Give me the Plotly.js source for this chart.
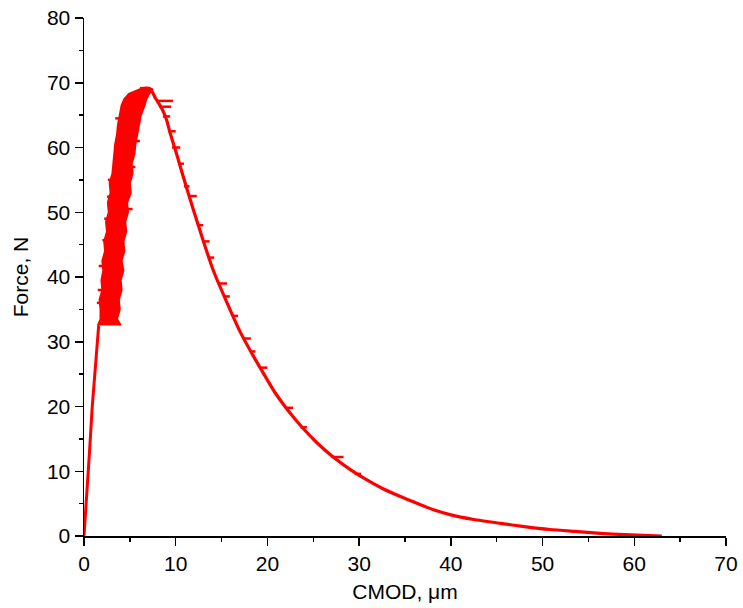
<!DOCTYPE html>
<html>
<head>
<meta charset="utf-8">
<script src="https://cdn.plot.ly/plotly-3.0.1.min.js"></script>
<style>html,body{margin:0;padding:0;background:#fff;}#chart{width:743px;height:608px;}</style>
</head>
<body>
<div id="chart"></div>
<script>
// Initial (elastic) rise
const riseX = [0, 0.3, 0.6, 0.9, 1.2, 1.45, 1.6];
const riseY = [0, 6, 13, 20, 26, 30.5, 32.5];

// Noisy band near the peak: y levels with left and right edges (CMOD, µm)
const bandY     = [32.5, 33.5, 35, 36.5, 38, 39.5, 41, 42.5, 44, 45.5, 47, 48.5, 50, 51.5, 53, 54.5, 56, 57.5, 59, 60.5, 62, 63.5, 65, 66.5, 67.5, 68.3, 69.0];
const bandLeft  = [1.5, 1.8, 1.8, 1.7, 2.0, 1.9, 2.1, 2.0, 2.3, 2.2, 2.5, 2.4, 2.7, 2.6, 2.9, 2.8, 3.1, 3.2, 3.3, 3.4, 3.6, 3.7, 3.9, 4.1, 4.4, 4.9, 6.1];
const bandRight = [4.0, 3.6, 3.9, 3.8, 4.1, 4.0, 4.3, 4.1, 4.4, 4.3, 4.6, 4.5, 4.8, 4.7, 5.1, 5.0, 5.3, 5.2, 5.5, 5.6, 5.8, 6.0, 6.2, 6.6, 6.8, 7.1, 7.5];

// Softening (post-peak) branch
const fallX = [6.1, 7.2, 7.8, 8.5, 9.0, 9.4, 10.1, 10.8, 11.9, 13.0, 14.1, 15.6, 17.0, 18.5, 19.7, 20.8, 22.8, 23.9, 25.4, 27.0, 29.0, 30.8, 32.6, 34.5, 36.5, 38.2, 39.9, 42.5, 45.4, 48.0, 50.8, 53.5, 56.3, 59.0, 61.7, 63.0];
const fallY = [69.1, 69.1, 67.6, 66.0, 64.3, 62.2, 59.0, 55.6, 50.5, 45.6, 41.0, 36.0, 31.6, 27.7, 24.8, 22.2, 18.4, 16.6, 14.4, 12.4, 10.3, 8.7, 7.3, 6.1, 4.95, 4.0, 3.3, 2.55, 1.95, 1.45, 1.0, 0.7, 0.4, 0.2, 0.08, 0.0];

// Short horizontal noise dashes (band edges and softening branch)
const dashY  = [36.0, 38.0, 41.7, 45.7, 49.0, 52.4, 55.0, 50.5, 57.0, 61.0, 64.5, 67.2, 66.3, 64.8, 62.5, 60.0, 57.5, 54.0, 52.5, 48.0, 45.5, 43.0, 39.0, 37.0, 34.0, 30.5, 28.5, 26.0, 19.8, 16.8, 12.2, 9.6];
const dashX0 = [1.4, 1.5, 1.6, 2.0, 2.2, 2.5, 2.6, 4.6, 5.0, 5.4, 3.4, 7.9, 8.2, 8.6, 9.2, 9.6, 10.3, 10.9, 11.4, 12.5, 13.0, 13.5, 14.6, 15.3, 16.2, 17.5, 18.1, 19.2, 22.0, 23.6, 27.0, 29.5];
const dashX1 = [2.2, 2.3, 2.5, 2.8, 3.0, 3.3, 3.4, 5.3, 5.6, 6.1, 4.2, 9.7, 9.5, 9.4, 10.0, 10.5, 10.9, 11.5, 12.3, 13.0, 13.7, 14.2, 15.6, 15.9, 16.8, 18.2, 18.7, 20.0, 22.8, 24.3, 28.3, 30.2];

const RED = '#ff0000';

const polyX = bandLeft.concat(bandRight.slice().reverse());
const polyY = bandY.concat(bandY.slice().reverse());

const segX = [], segY = [];
dashY.forEach((y, i) => { segX.push(dashX0[i], dashX1[i], null); segY.push(y, y, null); });

const traces = [
  {x: riseX, y: riseY, mode: 'lines', line: {color: RED, width: 3}, hoverinfo: 'skip'},
  {x: polyX, y: polyY, mode: 'lines', fill: 'toself', fillcolor: RED, line: {color: RED, width: 2}, hoverinfo: 'skip'},
  {x: fallX, y: fallY, mode: 'lines', line: {color: RED, width: 3.2, shape: 'spline', smoothing: 0.6}, hoverinfo: 'skip'},
  {x: segX, y: segY, mode: 'lines', line: {color: RED, width: 2.5}, hoverinfo: 'skip'}
];

const font = {family: 'Liberation Sans, Arial, sans-serif', size: 21, color: '#000'};
const axisBase = {
  showgrid: false, zeroline: false, showline: true, linecolor: '#000', linewidth: 1.5,
  ticks: 'outside', ticklen: 8, tickwidth: 1.5, tickcolor: '#000',
  tickfont: font, dtick: 10, tick0: 0,
  minor: {ticks: 'outside', ticklen: 4, tickwidth: 1.5, tickcolor: '#000', dtick: 5}
};

const layout = {
  width: 743, height: 608,
  margin: {l: 84, r: 17, t: 18, b: 72},
  paper_bgcolor: '#fff', plot_bgcolor: '#fff',
  showlegend: false,
  font: font,
  xaxis: Object.assign({}, axisBase, {range: [0, 70], title: {text: 'CMOD, μm', font: font, standoff: 10}}),
  yaxis: Object.assign({}, axisBase, {range: [0, 80], title: {text: 'Force, N', font: font, standoff: 12}})
};

Plotly.newPlot('chart', traces, layout, {staticPlot: true, displayModeBar: false});
</script>
</body>
</html>
